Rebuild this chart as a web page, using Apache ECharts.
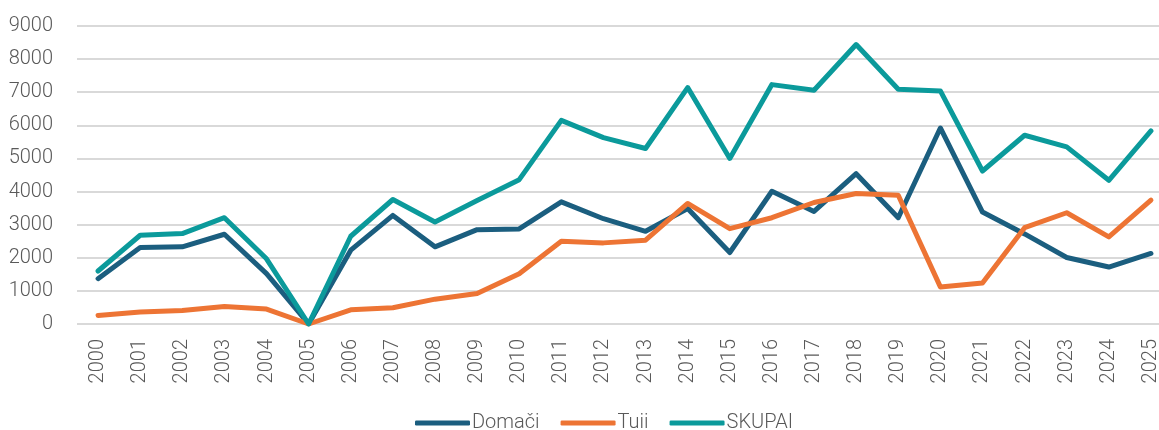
<!DOCTYPE html>
<html>
<head>
<meta charset="utf-8">
<script src="https://cdn.jsdelivr.net/npm/echarts@6/dist/echarts.min.js"></script>
<style>
  html, body { margin: 0; padding: 0; background: #fff; }
  #chart { width: 1159px; height: 430px; }
</style>
</head>
<body>
<div id="chart"></div>
<script>
var years = ['2000', '2001', '2002', '2003', '2004', '2005', '2006', '2007', '2008', '2009',
  '2010', '2011', '2012', '2013', '2014', '2015', '2016', '2017', '2018', '2019',
  '2020', '2021', '2022', '2023', '2024', '2025'];

var domaci = [1370, 2310, 2330, 2710, 1520, 0, 2230, 3280, 2330, 2850,
  2870, 3690, 3180, 2800, 3490, 2160, 4010, 3400, 4540, 3210,
  5920, 3380, 2720, 2010, 1720, 2130];

var tuii = [260, 360, 410, 530, 450, 0, 430, 490, 750, 920,
  1520, 2500, 2450, 2530, 3640, 2880, 3210, 3670, 3940, 3890,
  1120, 1240, 2910, 3360, 2630, 3740];

var skupai = [1600, 2680, 2730, 3210, 1970, 0, 2650, 3760, 3080, 3730,
  4360, 6150, 5630, 5300, 7140, 5000, 7230, 7060, 8440, 7090,
  7040, 4620, 5700, 5350, 4340, 5830];

var seriesNames = ['Domači', 'Tuii', 'SKUPAI'];
var colors = ['#1b5e7f', '#ed7434', '#0b9a9b'];

var chart = echarts.init(document.getElementById('chart'), null, { renderer: 'canvas' });
var font = 'Roboto, "DejaVu Sans", sans-serif';

function makeLine(name, data, color) {
  return {
    name: name,
    type: 'line',
    data: data,
    symbol: 'none',
    smooth: false,
    lineStyle: { width: 5, color: color, cap: 'round', join: 'round' },
    itemStyle: { color: color }
  };
}

var option = {
  animation: false,
  grid: { left: 77, top: 26, width: 1095, height: 298, outerBoundsMode: 'none', containLabel: false },
  legend: {
    data: seriesNames,
    left: 410,
    top: 408,
    itemWidth: 55,
    itemHeight: 5,
    itemGap: 21,
    icon: 'roundRect',
    textStyle: { fontFamily: font, fontWeight: 300, fontSize: 20, color: '#595959', padding: [0, 0, 0, -3] }
  },
  xAxis: {
    type: 'category',
    data: years,
    boundaryGap: true,
    axisLine: { show: false },
    axisTick: { show: false },
    axisLabel: { rotate: 90, margin: 15, fontFamily: font, fontWeight: 300, fontSize: 20, color: '#595959' }
  },
  yAxis: {
    type: 'value',
    min: 0,
    max: 9000,
    interval: 1000,
    axisLine: { show: false },
    axisTick: { show: false },
    axisLabel: { margin: 24, fontFamily: font, fontWeight: 300, fontSize: 20, color: '#595959', formatter: function (v) { return String(v); } },
    splitLine: { lineStyle: { color: '#d9d9d9', width: 2 } }
  },
  series: [
    makeLine(seriesNames[0], domaci, colors[0]),
    makeLine(seriesNames[1], tuii, colors[1]),
    makeLine(seriesNames[2], skupai, colors[2])
  ]
};

chart.setOption(option);
</script>
</body>
</html>
